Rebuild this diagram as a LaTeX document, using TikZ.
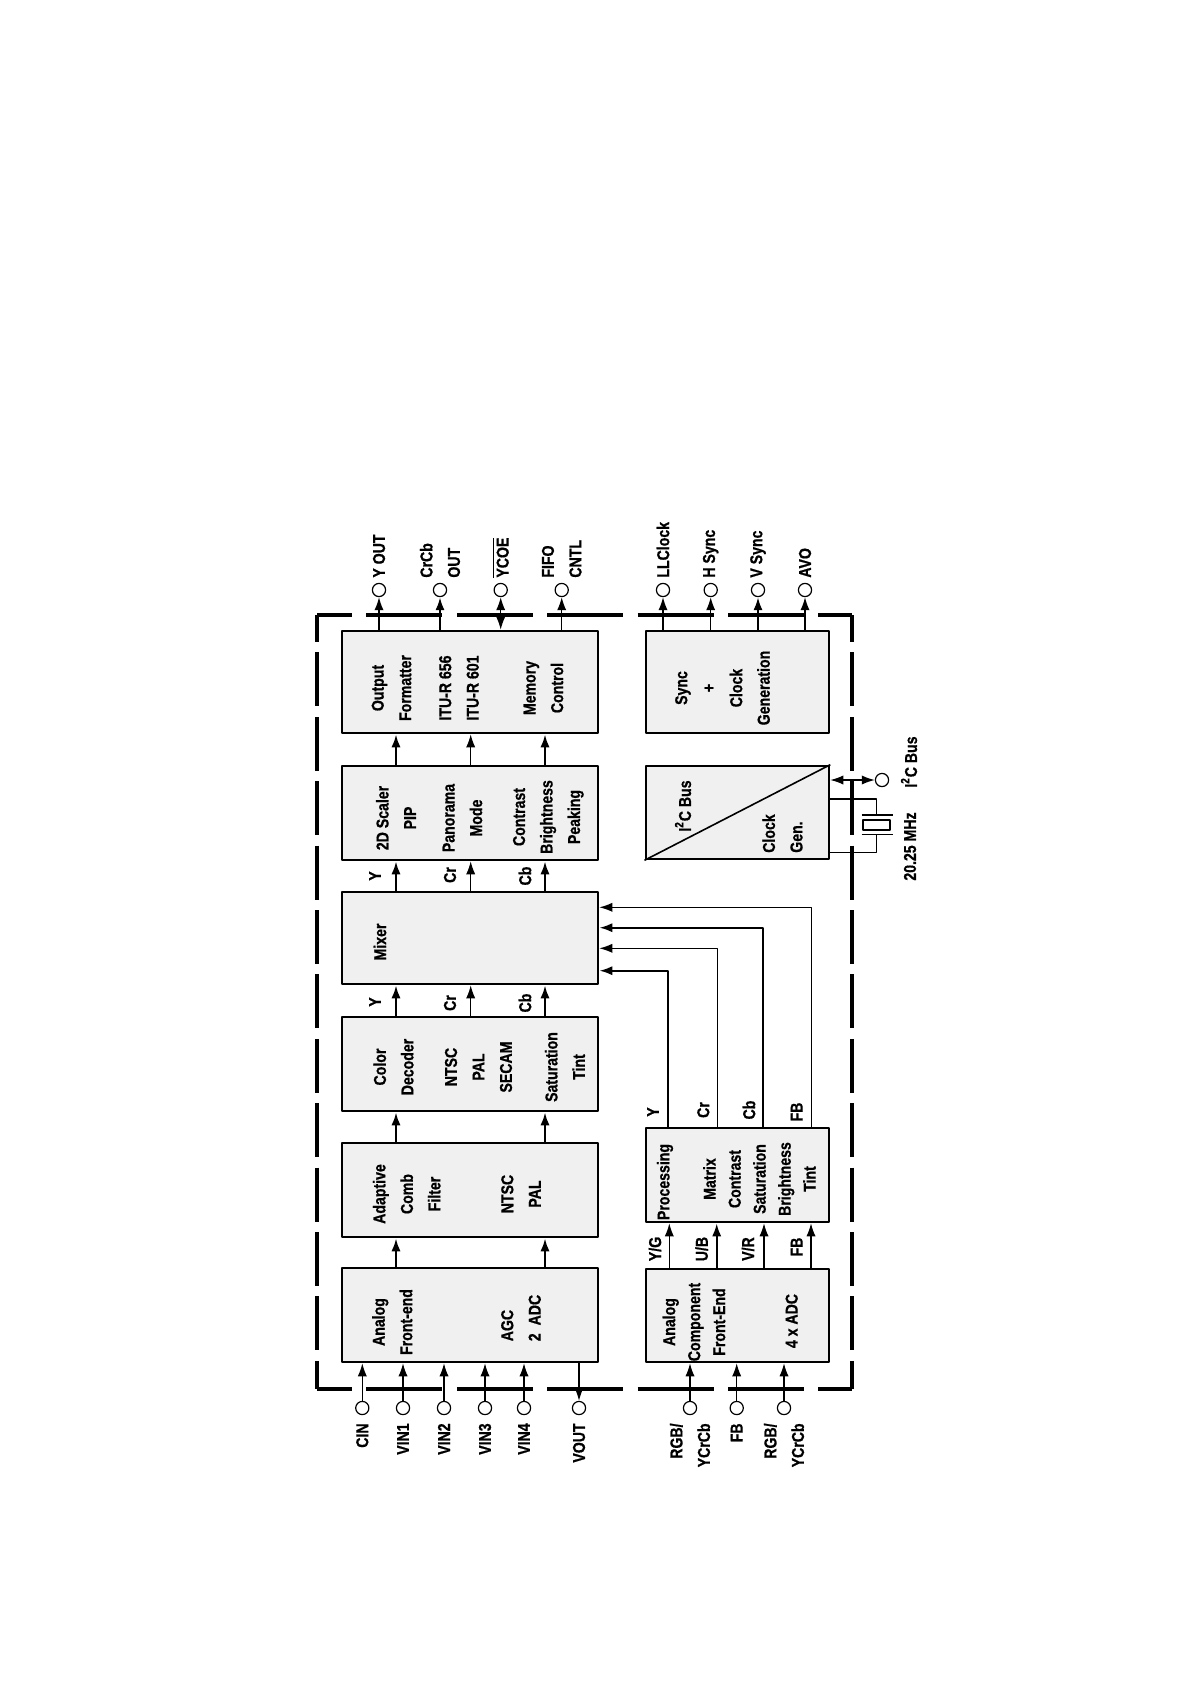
\documentclass[tikz,border=0pt]{standalone}
\usepackage{fontspec}
\setmainfont{Liberation Sans}[FakeStretch=0.82,BoldFeatures={FakeBold=0.8}]
\usetikzlibrary{arrows.meta}
\tikzset{
  blk/.style={draw, line width=1.3pt, fill=black!6, inner sep=0pt},
  wideblk/.style={blk, minimum width=128pt},
  narrowblk/.style={blk, minimum width=91.6pt},
  txt/.style={rotate=90, align=center, inner sep=0pt},
  sig/.style={rotate=90, inner sep=0pt},
  pin/.style={circle, draw, line width=0.6pt, fill=white, minimum size=6.6pt, inner sep=0pt},
  toplbl/.style={rotate=90, anchor=west, align=left, inner sep=0pt},
  botlbl/.style={rotate=90, anchor=east, align=right, inner sep=0pt},
  wire/.style={line width=0.65pt},
  bus/.style={line width=1.15pt},
  border/.style={line width=2pt},
  hdash/.style={dash pattern=on 38pt off 7.2pt, dash phase=20.5pt},
  vdash/.style={dash pattern=on 27pt off 5.2pt, dash phase=13.5pt}
}
\begin{document}
\begin{tikzpicture}[x=0.5pt,y=-0.5pt,line join=round,>={Latex[length=6.5pt,width=4.6pt]},
  font=\bfseries\fontsize{8.6}{13.75}\selectfont]
	\useasboundingbox (0,0) rectangle (1191,1685);
	% chip outline
	\draw[border,hdash] (317,615)--(852,615);
	\draw[border,hdash] (317,1389)--(852,1389);
	\draw[border,vdash] (317,615)--(317,1389);
	\draw[border,vdash] (852,615)--(852,1389);
	
	% video path
	\node[wideblk, minimum height=51pt] (fmt) at (470,682) {};
	\node[wideblk, minimum height=47pt] (scl) at (470,813) {};
	\node[wideblk, minimum height=46pt] (mix) at (470,938) {};
	\node[wideblk, minimum height=47pt] (dec) at (470,1064) {};
	\node[wideblk, minimum height=47pt] (comb) at (470,1190) {};
	\node[wideblk, minimum height=47pt] (afe) at (470,1315) {};
	\node[narrowblk, minimum height=51pt] (sync) at (737.4,682) {};
	\node[narrowblk, minimum height=46.5pt] (i2c) at (737.4,812.5) {};
	\node[narrowblk, minimum height=47pt] (proc) at (737.4,1175) {};
	\node[narrowblk, minimum height=46.5pt] (cfe) at (737.4,1315.5) {};
	\draw[line width=0.8pt] (i2c.south west)--(i2c.north east);
	
	\node[txt] (fmtA) at (391.5,688) {Output\\Formatter};
	\node[txt] (fmtB) at (459,688) {ITU-R 656\\ITU-R 601};
	\node[txt] (fmtC) at (543.5,688) {Memory\\Control};
	\node[txt] (sclA) at (396,818) {2D Scaler\\PIP};
	\node[txt] (sclB) at (462.5,818) {Panorama\\Mode};
	\node[txt] (sclC) at (548.3,817) {Contrast\\Brightness\\Peaking};
	\node[txt] (mixA) at (380,942) {Mixer};
	\node[txt] (decA) at (393.5,1067) {Color\\Decoder};
	\node[txt] (decB) at (478.5,1067) {NTSC\\PAL\\SECAM};
	\node[txt] (decC) at (565,1067) {Saturation\\Tint};
	\node[txt] (combA) at (406.7,1194) {Adaptive\\Comb\\Filter};
	\node[txt] (combB) at (521,1194) {NTSC\\PAL};
	\node[txt] (afeA) at (392.3,1322) {Analog\\Front-end};
	\node[txt, align=left] (afeB) at (521,1318) {AGC\\2\hspace{4pt}ADC};
	\node[txt] (syncA) at (722.5,688) {Sync\\+\\Clock\\Generation};
	\node[txt] (i2cA) at (683,806) {I\textsuperscript{2}C Bus};
	\node[txt, align=left] (i2cB) at (782.5,833.5) {Clock\\Gen.};
	\node[txt] (procA) at (665,1182) {Processing};
	\node[txt, font=\bfseries\fontsize{8.6}{12.5}\selectfont] (procB) at (759.5,1179) {Matrix\\Contrast\\Saturation\\Brightness\\Tint};
	\node[txt, font=\bfseries\fontsize{8.6}{12.5}\selectfont] (cfeA) at (694,1322) {Analog\\Component\\Front-End};
	\node[txt] (cfeB) at (791.7,1321) {4 x ADC};
	
	\coordinate (cY) at (396,0);
	\coordinate (cCr) at (470.7,0);
	\coordinate (cCb) at (545,0);
	\draw[bus,->] (afe.north -| cY)--(comb.south -| cY);
	\draw[bus,->] (afe.north -| cCb)--(comb.south -| cCb);
	\draw[bus,->] (comb.north -| cY)--(dec.south -| cY);
	\draw[bus,->] (comb.north -| cCb)--(dec.south -| cCb);
	\draw[bus,->] (dec.north -| cY)--(mix.south -| cY);
	\draw[wire,->] (dec.north -| cCr)--(mix.south -| cCr);
	\draw[bus,->] (dec.north -| cCb)--(mix.south -| cCb);
	\draw[bus,->] (mix.north -| cY)--(scl.south -| cY);
	\draw[wire,->] (mix.north -| cCr)--(scl.south -| cCr);
	\draw[bus,->] (mix.north -| cCb)--(scl.south -| cCb);
	\draw[bus,->] (scl.north -| cY)--(fmt.south -| cY);
	\draw[wire,->] (scl.north -| cCr)--(fmt.south -| cCr);
	\draw[bus,->] (scl.north -| cCb)--(fmt.south -| cCb);
	\node[sig] (dY) at (375,1002) {Y};
	\node[sig] (dCr) at (450,1003) {Cr};
	\node[sig] (dCb) at (525,1003) {Cb};
	\node[sig] (mY) at (375,876) {Y};
	\node[sig] (mCr) at (450,875) {Cr};
	\node[sig] (mCb) at (525,876) {Cb};
	
	% component path into the mixer
	\coordinate (kY) at (668.3,970.7);
	\coordinate (kCr) at (717.3,948.3);
	\coordinate (kCb) at (762.7,927.7);
	\coordinate (kFB) at (811.3,907.3);
	\draw[bus,->] (proc.north -| kY) |- (mix.east |- kY);
	\draw[wire,->] (proc.north -| kCr) |- (mix.east |- kCr);
	\draw[bus,->] (proc.north -| kCb) |- (mix.east |- kCb);
	\draw[wire,->] (proc.north -| kFB) |- (mix.east |- kFB);
	\node[sig] (pY) at (653,1112) {Y};
	\node[sig] (pCr) at (703.3,1110) {Cr};
	\node[sig] (pCb) at (749,1110) {Cb};
	\node[sig] (pFB) at (796.7,1112) {FB};
	\coordinate (jYG) at (669.3,0);
	\coordinate (jUB) at (716.7,0);
	\coordinate (jVR) at (764,0);
	\coordinate (jFB) at (811,0);
	\draw[wire,->] (cfe.north -| jYG)--(proc.south -| jYG);
	\draw[bus,->] (cfe.north -| jUB)--(proc.south -| jUB);
	\draw[wire,->] (cfe.north -| jVR)--(proc.south -| jVR);
	\draw[wire,->] (cfe.north -| jFB)--(proc.south -| jFB);
	\node[sig] (sYG) at (655,1249) {Y/G};
	\node[sig] (sUB) at (701.7,1249) {U/B};
	\node[sig] (sVR) at (748,1249) {V/R};
	\node[sig] (sFB) at (796.7,1247) {FB};
	
	% output pins
	\node[pin] (yout) at (379,590) {};
	\node[pin] (cout) at (440,590) {};
	\node[pin] (ycoe) at (500.7,590) {};
	\node[pin] (fifo) at (561.7,590) {};
	\node[pin] (llck) at (663,590) {};
	\node[pin] (hsyn) at (710.7,590) {};
	\node[pin] (vsyn) at (758,590) {};
	\node[pin] (avo) at (805,590) {};
	\draw[wire,->] (fmt.north -| yout)--(yout);
	\draw[bus,->] (fmt.north -| cout)--(cout);
	\draw[wire,<->] (fmt.north -| ycoe)--(ycoe);
	\draw[wire,->] (fmt.north -| fifo)--(fifo);
	\draw[wire,->] (sync.north -| llck)--(llck);
	\draw[wire,->] (sync.north -| hsyn)--(hsyn);
	\draw[bus,->] (sync.north -| vsyn)--(vsyn);
	\draw[wire,->] (sync.north -| avo)--(avo);
	\node[toplbl] (lyout) at (379,578) {Y OUT};
	\node[toplbl] (lcout) at (440,578) {CrCb\\OUT};
	\node[toplbl] (lycoe) at (500.7,578) {$\overline{\mbox{YCOE}}$};
	\node[toplbl] (lfifo) at (561.7,578) {FIFO\\CNTL};
	\node[toplbl] (lllck) at (663,578) {LLClock};
	\node[toplbl] (lhsyn) at (710.7,578) {H Sync};
	\node[toplbl] (lvsyn) at (758,578) {V Sync};
	\node[toplbl] (lavo) at (805,578) {AVO};
	
	% input pins
	\node[pin] (cin) at (362.3,1408) {};
	\node[pin] (vin1) at (403,1408) {};
	\node[pin] (vin2) at (444,1408) {};
	\node[pin] (vin3) at (485,1408) {};
	\node[pin] (vin4) at (524,1408) {};
	\node[pin] (vout) at (579,1408) {};
	\node[pin] (rgba) at (690,1408) {};
	\node[pin] (fbin) at (736.7,1408) {};
	\node[pin] (rgbb) at (784,1408) {};
	\draw[wire,->] (cin)--(afe.south -| cin);
	\draw[wire,->] (vin1)--(afe.south -| vin1);
	\draw[wire,->] (vin2)--(afe.south -| vin2);
	\draw[wire,->] (vin3)--(afe.south -| vin3);
	\draw[wire,->] (vin4)--(afe.south -| vin4);
	\draw[wire,->] (afe.south -| vout)--(vout);
	\draw[wire,->] (rgba)--(cfe.south -| rgba);
	\draw[wire,->] (fbin)--(cfe.south -| fbin);
	\draw[wire,->] (rgbb)--(cfe.south -| rgbb);
	\node[botlbl] (lcin) at (362.3,1423) {CIN};
	\node[botlbl] (lvin1) at (403,1423) {VIN1};
	\node[botlbl] (lvin2) at (444,1423) {VIN2};
	\node[botlbl] (lvin3) at (485,1423) {VIN3};
	\node[botlbl] (lvin4) at (524,1423) {VIN4};
	\node[botlbl] (lvout) at (579,1423) {VOUT};
	\node[botlbl] (lrgba) at (690,1423) {RGB/\\YCrCb};
	\node[botlbl] (lfbin) at (736.7,1423) {FB};
	\node[botlbl] (lrgbb) at (784,1423) {RGB/\\YCrCb};
	
	% I2C bus and crystal
	\node[pin] (sda) at (882,780) {};
	\draw[wire,<->] (i2c.east |- sda)--(sda);
	\node[toplbl] (lsda) at (909,788) {I\textsuperscript{2}C Bus};
	\coordinate (xa) at (876.7,799);
	\coordinate (xb) at (876.7,852.7);
	\draw[wire] (i2c.east |- xa)--(xa)--(876.7,815);
	\draw[wire] (861.7,815)--(893,815);
	\draw[wire] (863,820) rectangle (890,830);
	\draw[wire] (861.7,834.3)--(893,834.3);
	\draw[wire] (876.7,834.3)--(xb)--(i2c.east |- xb);
	\node[toplbl] (lxtal) at (910,881) {20.25 MHz};
\end{tikzpicture}
\end{document}
